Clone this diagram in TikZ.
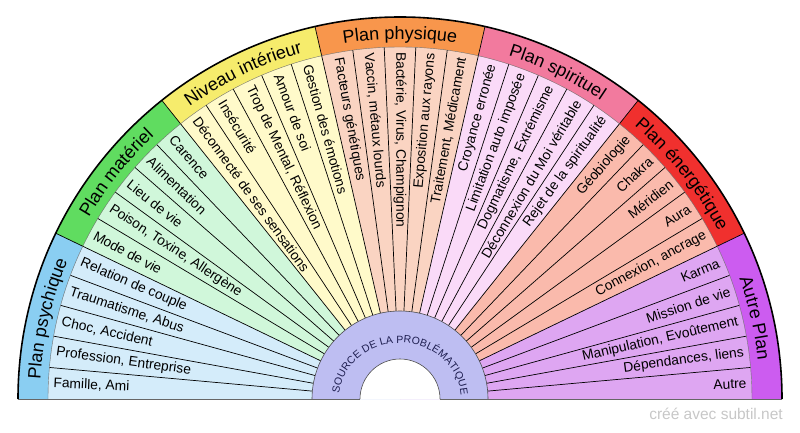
\documentclass[tikz,border=0pt]{standalone}
\usepackage{fontspec}
\setmainfont{Liberation Sans}
\usepackage{tikz}
\usetikzlibrary{decorations.text}
\definecolor{psyband}{RGB}{138,206,242}
\definecolor{psyitem}{RGB}{212,236,250}
\definecolor{matband}{RGB}{96,220,96}
\definecolor{matitem}{RGB}{208,247,218}
\definecolor{intband}{RGB}{246,236,108}
\definecolor{intitem}{RGB}{255,250,202}
\definecolor{phyband}{RGB}{248,150,76}
\definecolor{phyitem}{RGB}{250,212,194}
\definecolor{spiband}{RGB}{242,122,158}
\definecolor{spiitem}{RGB}{250,218,248}
\definecolor{eneband}{RGB}{240,48,46}
\definecolor{eneitem}{RGB}{250,186,172}
\definecolor{autband}{RGB}{204,92,240}
\definecolor{autitem}{RGB}{222,166,242}
\definecolor{hubcol}{RGB}{190,190,242}
\definecolor{hubtext}{RGB}{30,30,80}
\newcommand{\itemfont}{\fontsize{13.8}{15}\selectfont}
\newcommand{\bandfont}{\fontsize{18}{20}\selectfont}
\newcommand{\hubfont}{\fontsize{10.5}{12}\selectfont}
\newcommand{\rO}{382}
\newcommand{\rB}{352}
\newcommand{\rT}{360}
\newcommand{\rL}{347}
\newcommand{\rH}{88}
\newcommand{\rW}{40}
% one category: sector, band, divider
\newcommand{\drawcategory}[3]{
    \pgfmathsetmacro\aA{180-#1*180/7}
    \pgfmathsetmacro\aB{180-(#1+1)*180/7}
    \fill[#3] (0,0) -- (\aA:\rB) arc[start angle=\aA,end angle=\aB,radius=\rB] -- cycle;
    \fill[#2] (\aA:\rB) arc[start angle=\aA,end angle=\aB,radius=\rB] -- (\aB:\rO) arc[start angle=\aB,end angle=\aA,radius=\rO] -- cycle;
}
\newcommand{\bandtext}[2]{
    \pgfmathsetmacro\aA{180-#1*180/7}
    \pgfmathsetmacro\aB{180-(#1+1)*180/7}
    \path[decorate,decoration={text along path,text align=center,text={|\bandfont|#2}}] (\aA:\rT) arc[start angle=\aA,end angle=\aB,radius=\rT];
}

\begin{document}
\begin{tikzpicture}[x=1pt,y=1pt,
    divider/.style={line width=0.7pt},
    itemlabel/.style={font=\itemfont,inner sep=0pt}]
\useasboundingbox (0,0) rectangle (800,432);
\begin{scope}[shift={(400,33)}]
\drawcategory{0}{psyband}{psyitem}
\drawcategory{1}{matband}{matitem}
\drawcategory{2}{intband}{intitem}
\drawcategory{3}{phyband}{phyitem}
\drawcategory{4}{spiband}{spiitem}
\drawcategory{5}{eneband}{eneitem}
\drawcategory{6}{autband}{autitem}
\foreach \i in {1,...,34}{
    \draw[divider] ({180-\i*180/35}:\rH) -- ({180-\i*180/35}:\rB);
}
\foreach \j in {1,...,6}{
    \draw[divider] ({180-\j*180/7}:\rB) -- ({180-\j*180/7}:\rO);
}
\draw[line width=0.4pt,black!55] (-\rB,0) arc[start angle=180,end angle=0,radius=\rB];
\bandtext{0}{Plan psychique}
\bandtext{1}{Plan matériel}
\bandtext{2}{Niveau intérieur}
\bandtext{3}{Plan physique}
\bandtext{4}{Plan spirituel}
\bandtext{5}{Plan énergétique}
\bandtext{6}{Autre Plan}
\foreach \lab [count=\i from 0] in {{Famille, Ami},{Profession, Entreprise},{Choc, Accident},{Traumatisme, Abus},{Relation de couple},
    {Mode de vie},{Poison, Toxine, Allergène},{Lieu de vie},{Alimentation},{Carence},
    {Déconnecté de ses sensations},{Insécurité},{Trop de Mental, Réflexion},{Amour de soi},{Gestion des émotions},
    {Facteurs génétiques},{Vaccin, métaux lourds},{Bactérie, Virus, Champignon},{Exposition aux rayons},{Traitement, Médicament},
    {Croyance erronée},{Limitation auto imposée},{Dogmatisme, Extrémisme},{Déconnexion du Moi véritable},{Rejet de la spiritualité},
    {Géobiologie},{Chakra},{Méridien},{Aura},{Connexion, ancrage},
    {Karma},{Mission de vie},{Manipulation, Evoûtement},{Dépendances, liens},{Autre}}{
    \pgfmathsetmacro\ang{180-(\i+0.5)*180/35}
    \ifdim\ang pt>89.9pt
        \node[itemlabel,anchor=west,rotate=\ang-180] (item\i) at (\ang:\rL) {\lab};
    \else
        \node[itemlabel,anchor=east,rotate=\ang] (item\i) at (\ang:\rL) {\lab};
    \fi
}
% source hub
\fill[hubcol] (\rH,0) arc[start angle=0,end angle=180,radius=\rH] -- cycle;
\draw[line width=0.6pt,black!70] (\rH,0) arc[start angle=0,end angle=180,radius=\rH];
\fill[white] (\rW,0) arc[start angle=0,end angle=180,radius=\rW] -- cycle;
\draw[line width=0.6pt,black!70] (\rW,0) arc[start angle=0,end angle=180,radius=\rW];
\path[decorate,decoration={text along path,text align=fit to path,text color=hubtext,
    text={|\hubfont|SOURCE DE LA PROBLÉMATIQUE}}] (174:61 and 56) arc[start angle=174,end angle=4,x radius=61,y radius=56];
% outline
\draw[line width=1.6pt] (-\rO,0) arc[start angle=180,end angle=0,radius=\rO];
\draw[line width=0.8pt,black!60] (-\rO,0) -- (-\rW,0) (\rW,0) -- (\rO,0);
\end{scope}
\node[font=\fontsize{15.5}{17}\selectfont,text=black!22,anchor=east,inner sep=0pt] (credit) at (783,18) {créé avec subtil.net};
\end{tikzpicture}
\end{document}
